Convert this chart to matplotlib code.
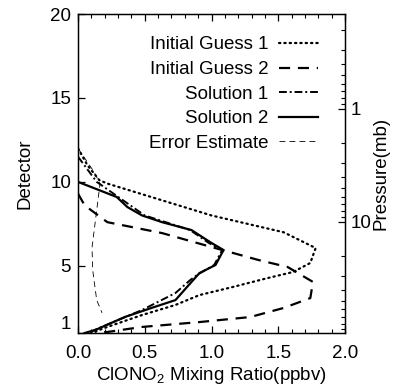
import matplotlib
matplotlib.use("Agg")
import matplotlib.pyplot as plt
import numpy as np

plt.rcParams["font.family"] = ["Liberation Sans", "DejaVu Sans"]
plt.rcParams["mathtext.fontset"] = "custom"
plt.rcParams["mathtext.rm"] = "Liberation Sans"
plt.rcParams["font.size"] = 13.5

# === Profils ClONO2 (detecteur, rapport de melange en ppbv) ===
det_guess1 = [12.0, 11.0, 10.1, 9.9, 8.0, 7.0, 6.06, 5.17, 4.63, 4.27, 3.74, 3.26, 2.67, 2.07, 1.36, 1.0]
mix_guess1 = [0.0, 0.07, 0.16, 0.22, 1.00, 1.54, 1.78, 1.74, 1.61, 1.42, 1.16, 0.91, 0.73, 0.48, 0.22, 0.10]

det_guess2 = [9.3, 8.6, 7.6, 6.95, 6.12, 5.35, 4.93, 4.04, 3.08, 2.49, 1.95, 1.65, 1.36, 1.06, 1.0]
mix_guess2 = [0.0, 0.05, 0.22, 0.63, 1.00, 1.35, 1.57, 1.76, 1.74, 1.54, 1.29, 0.91, 0.48, 0.22, 0.13]

det_sol1 = [11.5, 10.0, 9.0, 8.0, 7.13, 6.36, 5.94, 5.05, 4.5, 4.15, 3.38, 2.37, 1.2, 1.0]
mix_sol1 = [0.0, 0.14, 0.32, 0.50, 0.84, 0.98, 1.08, 1.02, 0.90, 0.84, 0.73, 0.48, 0.13, 0.08]

det_sol2 = [10.0, 9.1, 8.5, 8.0, 7.6, 7.13, 6.36, 5.94, 5.05, 4.57, 4.04, 2.96, 2.49, 1.95, 1.18, 1.0]
mix_sol2 = [0.0, 0.29, 0.37, 0.48, 0.63, 0.85, 1.00, 1.09, 1.03, 0.91, 0.85, 0.73, 0.55, 0.35, 0.13, 0.05]

det_err = [12.0, 10.6, 9.9, 8.3, 6.1, 4.75, 2.96, 2.2]
mix_err = [0.0, 0.12, 0.165, 0.14, 0.105, 0.11, 0.14, 0.18]

fig = plt.figure(figsize=(3.99, 3.89), dpi=100)
ax = fig.add_axes([0.1955, 0.144, 0.6692, 0.820])

ax.plot(mix_guess1, det_guess1, color="black", lw=1.6, linestyle=(0, (0.6, 1.8)),
        dash_capstyle="round", label="Initial Guess 1")
ax.plot(mix_guess2, det_guess2, color="black", lw=1.6, linestyle=(0, (5, 3.5)),
        label="Initial Guess 2")
ax.plot(mix_sol1, det_sol1, color="black", lw=1.4, linestyle=(0, (4, 1.5, 1, 1.5)),
        label="Solution 1")
ax.plot(mix_sol2, det_sol2, color="black", lw=1.6, label="Solution 2")
ax.plot(mix_err, det_err, color="black", lw=0.6, linestyle=(0, (7, 5)),
        label="Error Estimate")

ax.set_xlim(0, 2)
ax.set_ylim(1, 20)
ax.set_xticks([0.0, 0.5, 1.0, 1.5, 2.0])
ax.set_xticklabels(["0.0", "0.5", "1.0", "1.5", "2.0"])
ax.set_xticks(np.arange(0, 2.01, 0.1), minor=True)
ax.set_yticks([1, 5, 10, 15, 20])
ax.tick_params(axis="x", which="both", direction="in", top=True)
ax.tick_params(axis="y", which="both", direction="in")
ax.tick_params(which="major", length=5, width=0.9)
ax.tick_params(which="minor", length=3, width=0.8)
ax.tick_params(axis="x", pad=9)
ax.tick_params(axis="y", pad=5)
# le "1" pose sur le bord inferieur
ax.get_yticklabels()[0].set_verticalalignment("bottom")
ax.set_xlabel(r"ClONO$_2$ Mixing Ratio(ppbv)", labelpad=2)
ax.set_ylabel("Detector", labelpad=12)
for s in ax.spines.values():
    s.set_linewidth(1.0)

ax.legend(loc="upper right", bbox_to_anchor=(0.90, 0.93), frameon=False,
          markerfirst=False, handlelength=2.1, handletextpad=0.55,
          labelspacing=0.40, borderpad=0, borderaxespad=0, fontsize=13.5)

# --- Axe de pression (log) ---
ax2 = ax.twinx()
ax2.set_yscale("log")
ax2.set_ylim(97, 0.144)
ax2.set_yticks([1, 10])
ax2.set_yticklabels(["1", "10"])
ax2.tick_params(axis="y", which="both", direction="in")
ax2.tick_params(which="major", length=5, width=0.9, pad=4)
ax2.tick_params(which="minor", length=3, width=0.8)
ax2.set_ylabel("Pressure(mb)", labelpad=1)

fig.savefig("out.png", dpi=100)
